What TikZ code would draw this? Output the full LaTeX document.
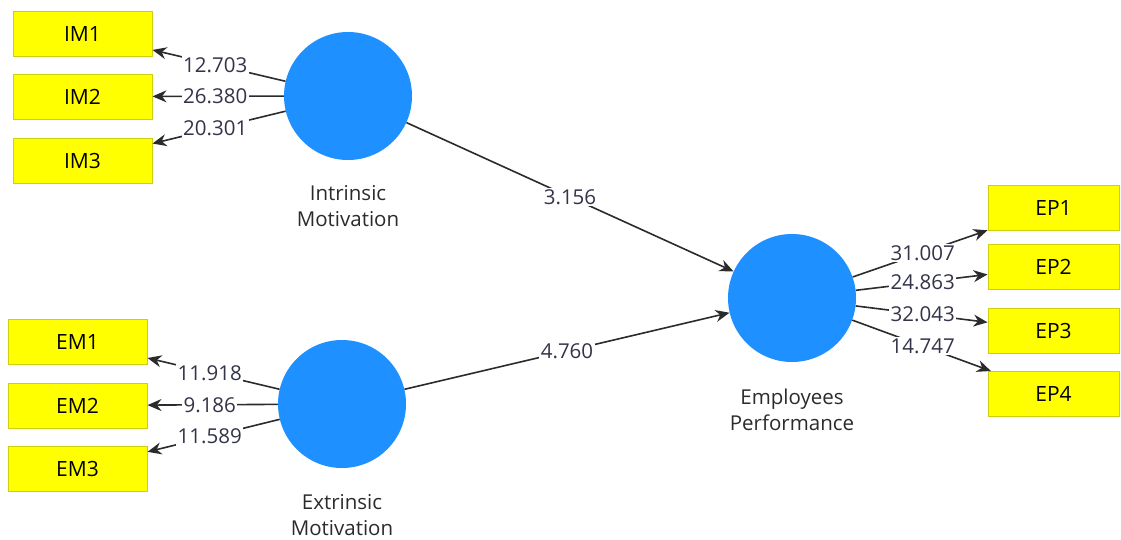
\documentclass[tikz,border=0pt]{standalone}
\usepackage{fontspec}
\setmainfont{Open Sans}
\usepackage{tikz}
\usetikzlibrary{calc,arrows.meta,positioning}
\definecolor{latent}{HTML}{1E90FF}
\definecolor{indfill}{HTML}{FFFF00}
\definecolor{indline}{HTML}{CFCF10}
\definecolor{ink}{HTML}{2B2B2B}
\definecolor{valink}{HTML}{33334A}
\tikzset{
  ind/.style={rectangle, draw=indline, fill=indfill, line width=1pt, minimum height=45pt, minimum width=139pt, inner sep=0pt, font=\fontsize{21}{25}\selectfont},
  lat/.style={circle, fill=latent, minimum size=128pt, inner sep=0pt},
  pth/.style={draw=ink, line width=1.6pt, -{Stealth[length=14pt,width=12pt]}},
  val/.style={fill=white, text=valink, inner sep=1.5pt, font=\fontsize{20.5}{25}\selectfont},
  nm/.style={text=ink, align=center, font=\fontsize{20.5}{26}\selectfont},
}
\begin{document}
\begin{tikzpicture}[x=1pt,y=-1pt]
  \useasboundingbox (0,0) rectangle (1121,539);
  % latent variables
  \node[lat] (im) at (348,96) {};
  \node[lat] (em) at (342,404) {};
  \node[lat] (ep) at (792,298) {};
  \node[nm] (imn) at (348,206) {Intrinsic\\Motivation};
  \node[nm] (emn) at (342,515) {Extrinsic\\Motivation};
  \node[nm] (epn) at (792,410) {Employees\\Performance};
  % indicators
  \node[ind] (im1) at (82.5,33.5) {IM1};
  \node[ind] (im2) at (82.5,96.5) {IM2};
  \node[ind] (im3) at (82.5,160.5) {IM3};
  \node[ind] (em1) at (77.5,341.5) {EM1};
  \node[ind] (em2) at (77.5,405.5) {EM2};
  \node[ind] (em3) at (77.5,469) {EM3};
  \node[ind, minimum width=131pt] (ep1) at (1053.5,207.5) {EP1};
  \node[ind, minimum width=131pt] (ep2) at (1053.5,266.5) {EP2};
  \node[ind, minimum width=131pt] (ep3) at (1053.5,330.5) {EP3};
  \node[ind, minimum width=131pt] (ep4) at (1053.5,394) {EP4};
  % paths
  \draw[pth] (im) -- (im1);
  \draw[pth] (im) -- (im2);
  \draw[pth] (im) -- (im3);
  \draw[pth] (em) -- (em1);
  \draw[pth] (em) -- (em2);
  \draw[pth] (em) -- (em3);
  \draw[pth] (ep) -- (ep1);
  \draw[pth] (ep) -- (ep2);
  \draw[pth] (ep) -- (ep3);
  \draw[pth] (ep) -- (ep4);
  \draw[pth] (im) -- (ep);
  \draw[pth] (em) -- (ep);
  % t values
  \node[val] (v1) at ($(im)!.5!(im1)$) {12.703};
  \node[val] (v2) at ($(im)!.5!(im2)$) {26.380};
  \node[val] (v3) at ($(im)!.5!(im3)$) {20.301};
  \node[val] (v4) at ($(em)!.5!(em1)$) {11.918};
  \node[val] (v5) at ($(em)!.5!(em2)$) {9.186};
  \node[val] (v6) at ($(em)!.5!(em3)$) {11.589};
  \node[val] (v7) at ($(ep)!.5!(ep1)$) {31.007};
  \node[val] (v8) at ($(ep)!.5!(ep2)$) {24.863};
  \node[val] (v9) at ($(ep)!.5!(ep3)$) {32.043};
  \node[val] (v10) at ($(ep)!.5!(ep4)$) {14.747};
  \node[val] (v11) at ($(im)!.5!(ep)$) {3.156};
  \node[val] (v12) at ($(em)!.5!(ep)$) {4.760};
\end{tikzpicture}
\end{document}
